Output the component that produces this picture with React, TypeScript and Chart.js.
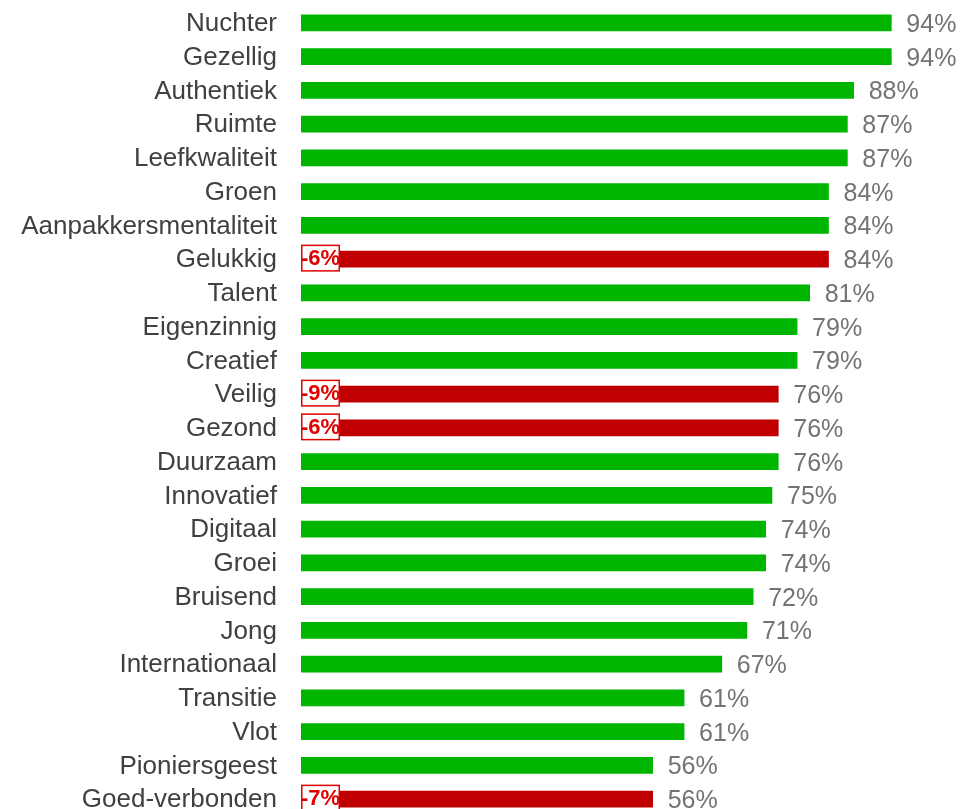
import React, { useEffect, useRef } from "react";
import { Chart, registerables } from "chart.js";

Chart.register(...registerables);

const categories = [
  "Nuchter", "Gezellig", "Authentiek", "Ruimte", "Leefkwaliteit", "Groen",
  "Aanpakkersmentaliteit", "Gelukkig", "Talent", "Eigenzinnig", "Creatief",
  "Veilig", "Gezond", "Duurzaam", "Innovatief", "Digitaal", "Groei",
  "Bruisend", "Jong", "Internationaal", "Transitie", "Vlot", "Pioniersgeest",
  "Goed-verbonden",
];
const values = [94, 94, 88, 87, 87, 84, 84, 84, 81, 79, 79, 76, 76, 76, 75, 74, 74, 72, 71, 67, 61, 61, 56, 56];
const changes: (number | null)[] = [
  null, null, null, null, null, null, null, -6, null, null, null, -9, -6,
  null, null, null, null, null, null, null, null, null, null, -7,
];

const GREEN = "#00B500";
const RED = "#C00000";
const BADGE_RED = "#E00000";
const FONT = '"Liberation Sans", Arial, sans-serif';

const labelPlugin = {
  id: "barLabels",
  afterDatasetsDraw(chart: any) {
    const ctx = chart.ctx;
    const meta = chart.getDatasetMeta(0);
    const area = chart.chartArea;
    ctx.save();
    meta.data.forEach((bar: any, i: number) => {
      ctx.font = `25px ${FONT}`;
      ctx.fillStyle = "#737373";
      ctx.textAlign = "left";
      ctx.textBaseline = "middle";
      ctx.fillText(`${values[i]}%`, bar.x + 15, bar.y + 2);
      const c = changes[i];
      if (c !== null) {
        const bx = area.left;
        const bw = 39;
        const bh = 27;
        const by = bar.y - bh / 2 - 1;
        ctx.fillStyle = "#ffffff";
        ctx.fillRect(bx, by, bw, bh);
        ctx.strokeStyle = BADGE_RED;
        ctx.lineWidth = 1.5;
        ctx.strokeRect(bx + 0.75, by + 0.75, bw - 1.5, bh - 1.5);
        ctx.font = `bold 22px ${FONT}`;
        ctx.fillStyle = BADGE_RED;
        ctx.textAlign = "center";
        ctx.fillText(`${c}%`, bx + bw / 2, bar.y);
      }
    });
    ctx.restore();
  },
};

export default function App() {
  const ref = useRef<HTMLCanvasElement>(null);
  useEffect(() => {
    document.body.style.margin = "0";
    document.body.style.overflow = "hidden";
    const canvas = ref.current!;
    const chart = new Chart(canvas, {
      type: "bar",
      data: {
        labels: categories,
        datasets: [
          {
            data: values,
            backgroundColor: changes.map((c) => (c !== null ? RED : GREEN)),
            barThickness: 16,
          },
        ],
      },
      options: {
        indexAxis: "y",
        responsive: false,
        animation: false,
        layout: { padding: { top: 6, bottom: 14, left: 0, right: 32 } },
        plugins: { legend: { display: false }, tooltip: { enabled: false } },
        scales: {
          x: { display: false, min: 0, max: 100 },
          y: {
            border: { display: false },
            grid: { display: false, drawTicks: false },
            ticks: {
              padding: 24,
              labelOffset: 1,
              color: "#404040",
              font: { family: FONT, size: 26 },
              autoSkip: false,
            },
            afterFit: (scale: any) => {
              scale.width = 301;
              scale.paddingTop = 0;
              scale.paddingBottom = 0;
            },
          },
        },
      },
      plugins: [labelPlugin],
    });
    return () => chart.destroy();
  }, []);
  return (
    <div style={{ width: 961, height: 809, overflow: "hidden" }}>
      <canvas ref={ref} width={961} height={830} style={{ display: "block" }} />
    </div>
  );
}
